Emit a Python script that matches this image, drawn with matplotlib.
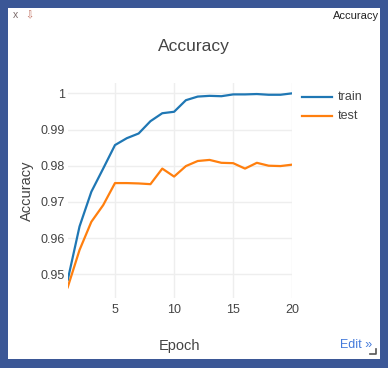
import matplotlib
matplotlib.use("Agg")
import matplotlib.pyplot as plt
from matplotlib.patches import Rectangle
from matplotlib.lines import Line2D

W, H = 388, 368

epochs = list(range(1, 21))
train_acc = [0.9484, 0.9632, 0.9728, 0.9792, 0.9857, 0.9876, 0.9889, 0.9923, 0.9945, 0.9949,
             0.9981, 0.9991, 0.9993, 0.9992, 0.9997, 0.9997, 0.9998, 0.9996, 0.9996, 1.0000]
test_acc = [0.9464, 0.9567, 0.9645, 0.9691, 0.9752, 0.9752, 0.9751, 0.9749, 0.9792, 0.9770,
            0.9799, 0.9813, 0.9816, 0.9808, 0.9807, 0.9792, 0.9808, 0.9800, 0.9799, 0.9803]
series_names = ["train", "test"]
xticks = [5, 10, 15, 20]
yticks = [0.95, 0.96, 0.97, 0.98, 0.99, 1.0]
ytick_labels = ["0.95", "0.96", "0.97", "0.98", "0.99", "1"]

FONT = ["Liberation Sans", "DejaVu Sans"]
plt.rcParams["font.family"] = FONT

fig = plt.figure(figsize=(W / 100, H / 100), dpi=100)
fig.patch.set_facecolor("#3b5796")

def fx(x):
    return x / W

def fy(y):
    return 1 - y / H

# white panel
fig.patches.append(Rectangle((fx(8), fy(359)), fx(380) - fx(8), fy(8) - fy(359),
                             transform=fig.transFigure, facecolor="white", edgecolor="none", zorder=-5))

left, right, top, bottom = 67.7, 292.3, 83, 298
ax = fig.add_axes([fx(left), fy(bottom), fx(right) - fx(left), fy(top) - fy(bottom)])
ax.set_zorder(3)
ax.set_facecolor("white")
ax.plot(epochs, train_acc, color="#1f77b4", lw=1.6, label=series_names[0], solid_joinstyle="round")
ax.plot(epochs, test_acc, color="#ff7f0e", lw=1.6, label=series_names[1], solid_joinstyle="round")
ax.set_xlim(1, 20)
ax.set_ylim(0.94345, 1.00285)
ax.set_xticks(xticks)
ax.set_yticks(yticks)
ax.set_yticklabels(ytick_labels)
ax.grid(True, color="#eeeeee", lw=1)
ax.set_axisbelow(True)
for s in ax.spines.values():
    s.set_visible(False)
ax.tick_params(axis="both", length=0, labelsize=9, labelcolor="#444444")
ax.tick_params(axis="y", pad=2)
ax.tick_params(axis="x", pad=4)

# axis titles
fig.text(fx(180), fy(346), "Epoch", ha="center", va="center", fontsize=10.5, color="#444444")
fig.text(fx(27), fy(191), "Accuracy", ha="center", va="center", rotation=90, fontsize=10.5, color="#444444")

# title
fig.text(fx(194), fy(47), "Accuracy", ha="center", va="center", fontsize=12.5, color="#444444")

# legend
leg_y = [96.7, 116]
for name, color, yy in zip(series_names, ["#1f77b4", "#ff7f0e"], leg_y):
    fig.lines.append(Line2D([fx(302.3), fx(332.3)], [fy(yy), fy(yy)], transform=fig.transFigure,
                           color=color, lw=1.6))
    fig.text(fx(337.7), fy(yy), name, ha="left", va="center", fontsize=9, color="#444444")

# top-right label and icons
fig.text(fx(379), fy(16), "Accuracy", ha="right", va="center", fontsize=8, color="#222222")
fig.text(fx(15.3), fy(15), "x", ha="center", va="center", fontsize=7.5, color="#7a6a6a")
fig.text(fx(29.3), fy(15), "⇩", ha="center", va="center", fontsize=7, color="#c07060",
         family=["DejaVu Sans"])

# edit link
fig.text(fx(372), fy(345), "Edit »", ha="right", va="center", fontsize=9, color="#447adb")
fig.lines.append(Line2D([fx(370), fx(376), fx(376)], [fy(354), fy(354), fy(349)],
                        transform=fig.transFigure, color="#555555", lw=1.2))

fig.savefig("out.png", dpi=100, facecolor=fig.get_facecolor())
